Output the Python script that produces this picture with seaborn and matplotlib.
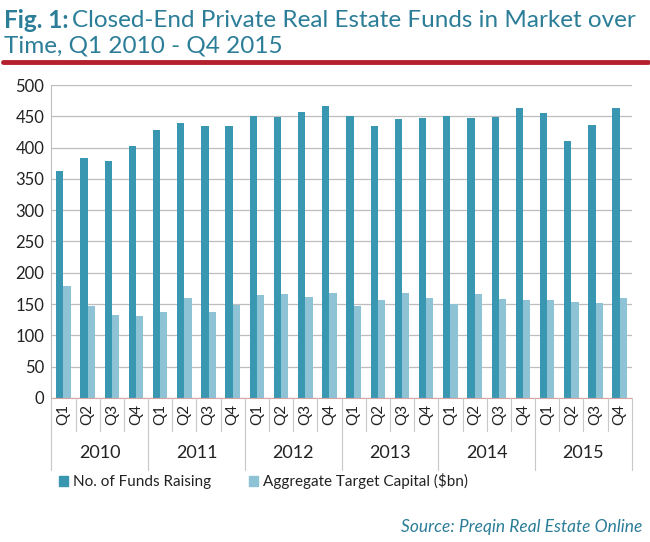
import pandas as pd
import numpy as np
import matplotlib
matplotlib.use('Agg')
import matplotlib.pyplot as plt
import matplotlib.transforms as mtrans
import seaborn as sns

DARK = '#3A97B2'
LIGHT = '#8EC3D5'
TEAL = '#2B7D98'

years = ['2010', '2011', '2012', '2013', '2014', '2015']
quarters = ['Q1', 'Q2', 'Q3', 'Q4']
funds = [363, 383, 378, 403, 428, 439, 435, 434, 450, 449, 457, 467,
         451, 434, 446, 448, 451, 447, 449, 464, 455, 411, 436, 463]
capital = [178, 147, 133, 131, 138, 160, 138, 148, 164, 166, 162, 168,
           147, 156, 168, 159, 150, 166, 158, 157, 156, 153, 152, 160]
series = ['No. of Funds Raising', 'Aggregate Target Capital ($bn)']

periods = [f'{y} {q}' for y in years for q in quarters]
df = pd.DataFrame({'period': periods * 2,
                   'series': [series[0]] * 24 + [series[1]] * 24,
                   'value': funds + capital})

sns.set_style('white')
plt.rcParams['font.family'] = ['Lato', 'DejaVu Sans']

fig = plt.figure(figsize=(6.5, 5.42), dpi=100)
ax = fig.add_axes([0.079, 0.266, 0.893, 0.577])
sns.barplot(data=df, x='period', y='value', hue='series', order=periods,
            palette=[DARK, LIGHT], width=0.6, saturation=1, linewidth=0,
            ax=ax, legend=False)

ax.set_ylim(0, 500)
ax.set_xlim(-0.5, 23.5)
ax.set_yticks(range(0, 501, 50))
ax.tick_params(axis='y', labelsize=12, length=0, colors='#222222', pad=5)
ax.yaxis.grid(True, color='#BDBDBD', linewidth=0.9)
ax.set_axisbelow(True)
for s in ['top', 'right', 'bottom']:
    ax.spines[s].set_visible(False)
ax.spines['left'].set_color('#BDBDBD')
ax.set_xlabel('')
ax.set_ylabel('')
ax.set_xticks(range(24))
ax.set_xticklabels(quarters * 6, rotation=90, fontsize=11, color='#222222')
ax.tick_params(axis='x', length=0, pad=4)

# bottom axis line and category separators
trans = mtrans.blended_transform_factory(ax.transData, ax.transAxes)
ax.plot([-0.5, 23.5], [0, 0], color='#D9A3A3', lw=0.8, transform=trans, clip_on=False)
for i in range(25):
    depth = -0.23 if i % 4 == 0 else -0.105
    ax.plot([i - 0.5, i - 0.5], [0, depth], color='#C8C8C8', lw=0.8,
            transform=trans, clip_on=False)
for k, y in enumerate(years):
    ax.text(4 * k + 1.5, -0.175, y, transform=trans, ha='center', va='center',
            fontsize=13, color='#222222')

# legend
handles = [plt.Rectangle((0, 0), 1, 1, color=c) for c in [DARK, LIGHT]]
fig.legend(handles, series, loc='center', bbox_to_anchor=(0.405, 0.112), ncol=2,
           frameon=False, fontsize=11, handlelength=0.6, handleheight=0.6,
           handletextpad=0.3, columnspacing=2.5, labelcolor='#222222')

# title
t1 = fig.text(0.006, 0.962, 'Fig. 1:', fontsize=17.5, fontweight='bold', color=TEAL, va='center')
fig.canvas.draw()
bb = t1.get_window_extent().transformed(fig.transFigure.inverted())
fig.text(bb.x1 + 0.006, 0.962, 'Closed-End Private Real Estate Funds in Market over',
         fontsize=17.5, color=TEAL, va='center')
fig.text(0.006, 0.915, 'Time, Q1 2010 - Q4 2015', fontsize=17.5, color=TEAL, va='center')
fig.add_artist(plt.Line2D([0.005, 0.997], [0.885, 0.885], color='#B5202E', lw=3.5))

fig.text(0.988, 0.028, 'Source: Preqin Real Estate Online', fontsize=12.5,
         style='italic', color=TEAL, ha='right', va='center')

fig.savefig('out.png', dpi=100)
